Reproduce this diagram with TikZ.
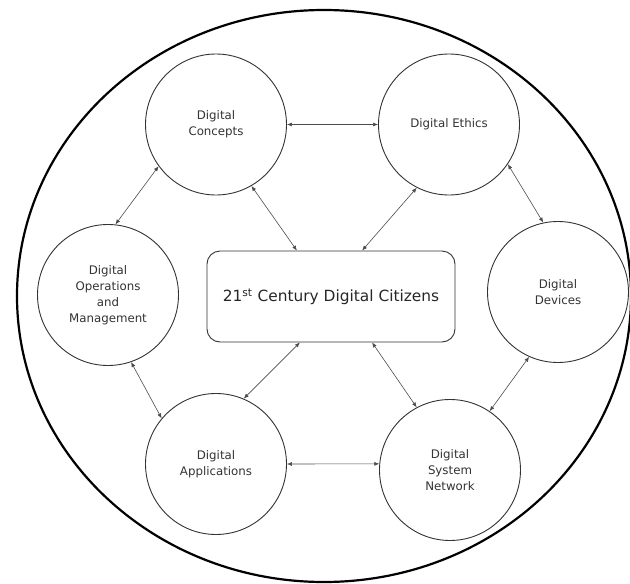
\documentclass[tikz,border=0pt]{standalone}
\usepackage{fontspec}
\setmainfont{DejaVu Sans}
\usetikzlibrary{arrows.meta,calc}
\begin{document}
\begin{tikzpicture}[x=1pt,y=-1pt,
  topic/.style={circle, draw=black!80, line width=0.9pt, minimum size=141pt, inner sep=0pt, align=center,
                font=\fontsize{11.8}{16}\selectfont, text=black!80},
  hub/.style={draw=black!80, line width=0.9pt, rounded corners=13pt, minimum width=248pt, minimum height=91pt,
              inner sep=0pt, font=\fontsize{15.4}{18}\selectfont, text=black!85},
  link/.style={draw=black!70, line width=0.6pt, {Latex[length=5pt,width=4pt]}-{Latex[length=5pt,width=4pt]}},
  outer/.style={draw=black, line width=2.2pt}
]
\useasboundingbox (0,0) rectangle (630,584);
\draw[outer] (324,296) ellipse [x radius=307pt, y radius=286pt];

\node[topic] (dc) at (216,124.5) {Digital\\Concepts};
\node[topic] (de) at (449,124.5) {Digital Ethics};
\node[topic] (dd) at (558,292) {Digital\\Devices};
\node[topic] (dn) at (450,470) {Digital\\System\\Network};
\node[topic] (da) at (216,464) {Digital\\Applications};
\node[topic] (do) at (108,295) {Digital\\Operations\\and\\Management};
\node[hub] (box) at (331,296.5) {21\textsuperscript{st} Century Digital Citizens};

\draw[link] (dc.0) -- (de.180);
\draw[link] (dc.216.7) -- (do.84.4);
\draw[link] (dc.-60.3) -- ($(box.north west)!0.363!(box.north east)$);
\draw[link] (de.-117.3) -- ($(box.north west)!0.625!(box.north east)$);
\draw[link] (de.-34.5) -- (dd.102.3);
\draw[link] (do.-71.8) -- (da.140.2);
\draw[link] ($(box.south west)!0.375!(box.south east)$) -- (da.67.1);
\draw[link] (da.0) -- (dn.175.1);
\draw[link] ($(box.south west)!0.665!(box.south east)$) -- (dn.118.4);
\draw[link] (dd.246.7) -- (dn.56.8);
\end{tikzpicture}
\end{document}
